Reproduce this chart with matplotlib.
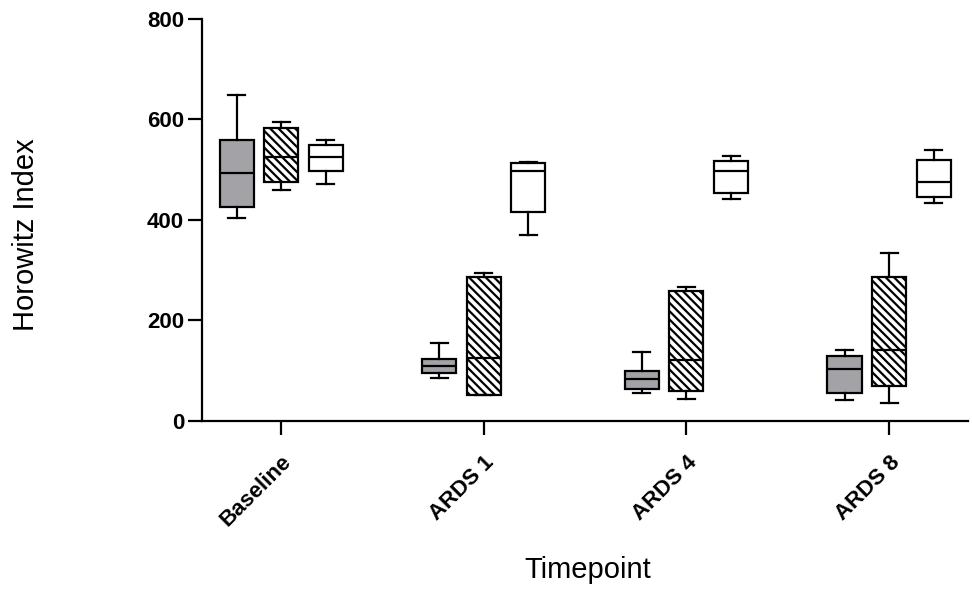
import matplotlib
matplotlib.use("Agg")
import matplotlib.pyplot as plt
import numpy as np

timepoints = ["Baseline", "ARDS 1", "ARDS 4", "ARDS 8"]

# five-number summaries per group: whisker low, q1, median, q3, whisker high
gray_lo  = [403, 86, 56, 42]
gray_q1  = [426, 95, 63, 55]
gray_med = [494, 109, 84, 103]
gray_q3  = [559, 123, 100, 129]
gray_hi  = [649, 156, 137, 141]

hatch_lo  = [459, 52, 43, 36]
hatch_q1  = [476, 52, 60, 69]
hatch_med = [525, 126, 122, 142]
hatch_q3  = [582, 287, 259, 287]
hatch_hi  = [594, 294, 266, 334]

white_lo  = [472, 371, 441, 434]
white_q1  = [497, 415, 454, 446]
white_med = [525, 498, 498, 476]
white_q3  = [549, 514, 518, 519]
white_hi  = [559, 515, 527, 539]

plt.rcParams["hatch.linewidth"] = 1.6
plt.rcParams["font.family"] = ["Liberation Sans", "DejaVu Sans"]

fig = plt.figure(figsize=(9.72, 5.9), dpi=100)
ax = fig.add_axes([0.208, 0.2864, 0.788, 0.6816])

def stats(lo, q1, med, q3, hi):
    return [dict(whislo=a, q1=b, med=c, q3=d, whishi=e, fliers=[])
            for a, b, c, d, e in zip(lo, q1, med, q3, hi)]

x = np.arange(len(timepoints))
series = [
    (stats(gray_lo, gray_q1, gray_med, gray_q3, gray_hi), -0.22, "#a2a2a7", None),
    (stats(hatch_lo, hatch_q1, hatch_med, hatch_q3, hatch_hi), 0.0, "white", "\\\\\\\\"),
    (stats(white_lo, white_q1, white_med, white_q3, white_hi), 0.22, "white", None),
]
lw = 1.6
for st, off, fc, hatch in series:
    ax.bxp(st, positions=x + off, widths=0.168, patch_artist=True,
           showfliers=False,
           boxprops=dict(facecolor=fc, edgecolor="black", linewidth=lw, hatch=hatch),
           medianprops=dict(color="black", linewidth=lw),
           whiskerprops=dict(color="black", linewidth=lw),
           capprops=dict(color="black", linewidth=lw))

ax.set_xlim(-0.39, 3.39)
ax.set_ylim(0, 800)
ax.set_yticks([0, 200, 400, 600, 800])
ax.set_xticks(x)
ax.set_xticklabels(timepoints, rotation=45, ha="right", rotation_mode="anchor")
for lab in ax.get_xticklabels() + ax.get_yticklabels():
    lab.set_fontweight("bold")
    lab.set_fontsize(16)

ax.spines["top"].set_visible(False)
ax.spines["right"].set_visible(False)
ax.spines["left"].set_linewidth(lw)
ax.spines["bottom"].set_linewidth(lw)
ax.tick_params(axis="y", direction="out", length=10, width=lw, pad=3)
ax.tick_params(axis="x", direction="out", length=10, width=lw, pad=12)

ax.set_ylabel("Horowitz Index", fontsize=21)
ax.set_xlabel("Timepoint", fontsize=21)
ax.yaxis.set_label_coords(-0.212, 0.463)
ax.xaxis.set_label_coords(0.503, -0.335)

fig.savefig("out.png", dpi=100)
